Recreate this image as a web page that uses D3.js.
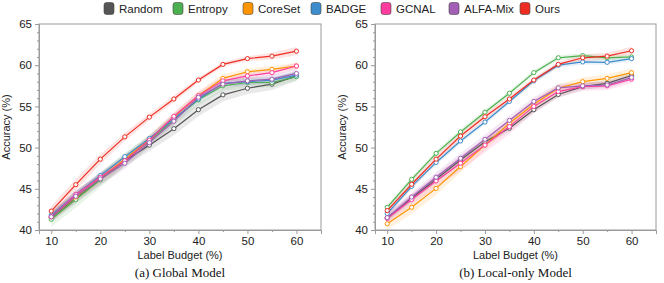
<!DOCTYPE html>
<html><head><meta charset="utf-8">
<script src="https://cdn.jsdelivr.net/npm/d3@7"></script>
<style>body{margin:0;background:#fff}svg{display:block}</style>
</head><body>
<svg id="c" width="664" height="283"></svg>
<script>
const budgets = [10,15,20,25,30,35,40,45,50,55,60];
const methods = ["Random","Entropy","CoreSet","BADGE","GCNAL","ALFA-Mix","Ours"];
const yTicks = [40,45,50,55,60,65];
const xTicks = [10,20,30,40,50,60];
const captions = ["(a) Global Model","(b) Local-only Model"];

// (a) Global Model: mean accuracy
const globalRandom  = [41.5,43.9,46.2,48.4,50.3,52.3,54.6,56.4,57.2,57.7,58.7];
const globalEntropy = [41.3,43.7,46.1,48.5,50.8,53.4,55.8,57.5,57.9,57.9,58.6];
const globalCoreSet = [41.6,44.0,46.3,48.6,51.0,53.7,56.3,58.4,59.2,59.5,59.9];
const globalBADGE   = [41.8,44.3,46.6,48.9,51.1,53.5,55.9,57.8,58.0,58.2,58.8];
const globalGCNAL   = [41.6,44.3,46.4,48.4,50.9,53.8,56.3,58.1,58.7,59.1,59.9];
const globalALFA    = [41.6,44.1,46.2,48.1,50.6,53.2,56.1,57.7,58.1,58.3,59.0];
const globalOurs    = [42.3,45.5,48.6,51.3,53.7,55.9,58.2,60.1,60.8,61.1,61.7];
// (a) std bands
const globalRandomSd  = [0.6,0.7,0.7,0.7,0.7,0.8,0.8,0.8,0.7,0.7,0.6];
const globalEntropySd = [0.9,1.0,0.9,0.8,0.7,0.7,0.7,0.6,0.6,0.6,0.5];
const globalCoreSetSd = [0.5,0.5,0.5,0.5,0.5,0.5,0.5,0.5,0.4,0.4,0.4];
const globalBADGESd   = [0.4,0.4,0.4,0.4,0.4,0.4,0.4,0.4,0.4,0.4,0.4];
const globalGCNALSd   = [0.5,0.5,0.5,0.5,0.5,0.5,0.5,0.5,0.4,0.4,0.4];
const globalALFASd    = [0.6,0.7,0.7,0.7,0.6,0.5,0.5,0.5,0.5,0.5,0.5];
const globalOursSd    = [0.6,0.7,0.6,0.5,0.4,0.4,0.3,0.3,0.3,0.4,0.5];

// (b) Local-only Model: mean accuracy
const localRandom  = [41.5,43.85,46.15,48.5,50.7,52.35,54.6,56.45,57.4,57.8,58.75];
const localEntropy = [42.75,46.15,49.3,51.9,54.3,56.6,59.1,60.9,61.15,60.9,61.0];
const localCoreSet = [40.75,42.75,45.05,47.7,50.3,52.95,55.25,57.2,58.0,58.4,59.1];
const localBADGE   = [42.0,45.3,48.2,50.8,53.1,55.6,58.1,60.0,60.4,60.35,60.8];
const localGCNAL   = [41.4,43.7,45.95,48.1,50.3,52.55,55.0,56.8,57.4,57.5,58.3];
const localALFA    = [41.5,44.0,46.4,48.7,51.0,53.3,55.6,57.25,57.5,57.6,58.5];
const localOurs    = [42.35,45.55,48.6,51.4,53.75,55.9,58.2,60.1,60.9,61.1,61.75];
// (b) std bands
const localRandomSd  = [0.4,0.4,0.4,0.4,0.4,0.4,0.4,0.4,0.4,0.4,0.4];
const localEntropySd = [0.3,0.3,0.3,0.3,0.3,0.3,0.3,0.3,0.3,0.3,0.3];
const localCoreSetSd = [0.7,0.8,0.8,0.7,0.6,0.5,0.5,0.5,0.5,0.5,0.5];
const localBADGESd   = [0.3,0.3,0.3,0.3,0.3,0.3,0.3,0.3,0.3,0.3,0.3];
const localGCNALSd   = [0.6,0.7,0.8,0.9,0.9,0.9,0.8,0.7,0.5,0.5,0.5];
const localALFASd    = [0.5,0.5,0.6,0.6,0.6,0.6,0.5,0.5,0.4,0.4,0.4];
const localOursSd    = [0.5,0.5,0.5,0.4,0.4,0.4,0.3,0.3,0.4,0.4,0.5];

const colors = ["#555555","#4cb050","#ff9500","#3d8ccb","#ff3d9e","#a25fb5","#ee2d22"];

const panels = [
  {means:[globalRandom,globalEntropy,globalCoreSet,globalBADGE,globalGCNAL,globalALFA,globalOurs],
   sds:[globalRandomSd,globalEntropySd,globalCoreSetSd,globalBADGESd,globalGCNALSd,globalALFASd,globalOursSd],
   x0:39, x1:321},
  {means:[localRandom,localEntropy,localCoreSet,localBADGE,localGCNAL,localALFA,localOurs],
   sds:[localRandomSd,localEntropySd,localCoreSetSd,localBADGESd,localGCNALSd,localALFASd,localOursSd],
   x0:375, x1:656}
];

const svg = d3.select("#c");
const font = "'Liberation Sans', Arial, sans-serif";
const plotTop = 24, plotBottom = 230;
const axisCol = "#9a9a9a";

// legend
const legX = [104,173,243,311,381,449,520];
const leg = svg.append("g");
methods.forEach((m,i)=>{
  leg.append("rect").attr("x",legX[i]).attr("y",2.5).attr("width",10).attr("height",12).attr("rx",2.5)
    .attr("fill",colors[i]).attr("stroke","#444").attr("stroke-width",0.6);
  leg.append("text").attr("x",legX[i]+15).attr("y",12.5).text(m)
    .attr("font-family",font).attr("font-size",11.5).attr("fill","#222");
});

panels.forEach((p,pi)=>{
  const x = d3.scaleLinear().domain([7.5,65]).range([p.x0,p.x1]);
  const y = d3.scaleLinear().domain([40,65]).range([plotBottom,plotTop]);
  const g = svg.append("g");

  g.append("rect").attr("x",p.x0).attr("y",plotTop).attr("width",p.x1-p.x0).attr("height",plotBottom-plotTop)
    .attr("fill","none").attr("stroke",axisCol).attr("stroke-width",1);

  g.append("g").attr("transform",`translate(${p.x0},0)`)
    .call(d3.axisLeft(y).tickValues(yTicks).tickSize(4).tickPadding(3));
  g.append("g").attr("transform",`translate(${p.x0},0)`)
    .call(d3.axisLeft(y).tickValues(d3.range(40,66).filter(v=>v%5!==0)).tickSize(2).tickFormat(""))
    .call(s=>s.select(".domain").remove());
  g.append("g").attr("transform",`translate(0,${plotBottom})`)
    .call(d3.axisBottom(x).tickValues(xTicks).tickSize(4).tickPadding(3));
  g.append("g").attr("transform",`translate(0,${plotBottom})`)
    .call(d3.axisBottom(x).tickValues([15,25,35,45,55]).tickSize(2).tickFormat(""))
    .call(s=>s.select(".domain").remove());
  g.selectAll(".domain").attr("stroke",axisCol);
  g.selectAll(".tick line").attr("stroke",axisCol);
  g.selectAll(".tick text").attr("font-family",font).attr("font-size",11.5).attr("fill","#222");

  g.append("text").attr("transform",`translate(${p.x0-29},${(plotTop+plotBottom)/2}) rotate(-90)`)
    .attr("text-anchor","middle").attr("font-family",font).attr("font-size",11).attr("fill","#222")
    .text("Accuracy (%)");
  g.append("text").attr("x",(p.x0+p.x1)/2).attr("y",259).attr("text-anchor","middle")
    .attr("font-family",font).attr("font-size",11).attr("fill","#222").text("Label Budget (%)");
  g.append("text").attr("x",(p.x0+p.x1)/2).attr("y",277).attr("text-anchor","middle")
    .attr("font-family","'Liberation Serif', 'Times New Roman', serif").attr("font-size",13).attr("fill","#111")
    .text(captions[pi]);

  const area = d3.area().x((d,i)=>x(budgets[i])).y0(d=>y(d[0]-d[1])).y1(d=>y(d[0]+d[1]));
  p.means.forEach((m,si)=>{
    const data = m.map((v,i)=>[v,p.sds[si][i]]);
    g.append("path").attr("d",area(data)).attr("fill",colors[si]).attr("fill-opacity",0.13);
  });
  const line = d3.line().x((d,i)=>x(budgets[i])).y(d=>y(d));
  p.means.forEach((m,si)=>{
    g.append("path").attr("d",line(m)).attr("fill","none").attr("stroke",colors[si]).attr("stroke-width",1.2);
    g.selectAll(null).data(m).enter().append("circle")
      .attr("cx",(d,i)=>x(budgets[i])).attr("cy",d=>y(d)).attr("r",2.1)
      .attr("fill","#fff").attr("stroke",colors[si]).attr("stroke-width",1);
  });
});
</script>
</body></html>
